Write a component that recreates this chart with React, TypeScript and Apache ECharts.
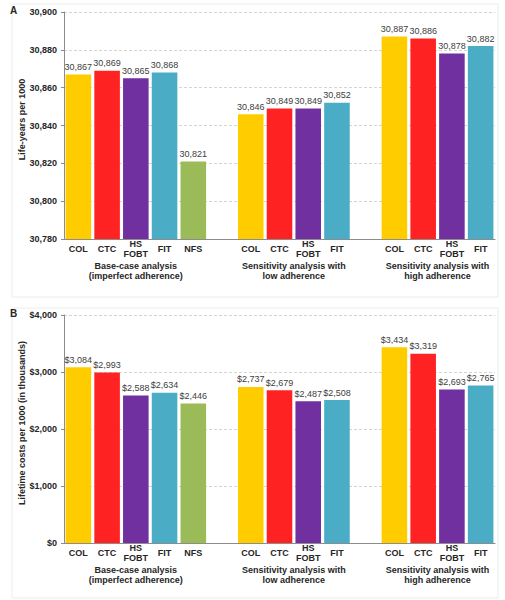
import React, { useEffect, useRef } from "react";
import * as echarts from "echarts";

// ---- Data ----
const strategiesBase = ["COL", "CTC", "HS\nFOBT", "FIT", "NFS"];
const strategiesSens = ["COL", "CTC", "HS\nFOBT", "FIT"];
const strategyColors: Record<string, string> = {
  COL: "#FFCC00",
  CTC: "#FF2222",
  "HS\nFOBT": "#7030A0",
  FIT: "#4BACC6",
  NFS: "#9BBB59",
};
const groupTitles = [
  "Base-case analysis\n(imperfect adherence)",
  "Sensitivity analysis with\nlow adherence",
  "Sensitivity analysis with\nhigh adherence",
];
const lifeYearsBase = [30867, 30869, 30865, 30868, 30821];
const lifeYearsLow = [30846, 30849, 30849, 30852];
const lifeYearsHigh = [30887, 30886, 30878, 30882];
const costsBase = [3084, 2993, 2588, 2634, 2446];
const costsLow = [2737, 2679, 2487, 2508];
const costsHigh = [3434, 3319, 2693, 2765];
const lifeTicks = { min: 30780, max: 30900, interval: 20 };
const costTicks = { min: 0, max: 4000, interval: 1000 };

// build categories with an empty spacer slot between groups
const groups = [strategiesBase, strategiesSens, strategiesSens];
const categories: string[] = [];
const groupCenters: number[] = [];
groups.forEach((g, gi) => {
  if (gi > 0) categories.push("");
  const start = categories.length;
  g.forEach((s) => categories.push(s));
  groupCenters.push(start + (g.length - 1) / 2);
});

function buildData(parts: number[][]) {
  const out: any[] = [];
  parts.forEach((p, gi) => {
    if (gi > 0) out.push("-");
    p.forEach((v, i) => {
      const cat = groups[gi][i];
      out.push({ value: v, itemStyle: { color: strategyColors[cat] } });
    });
  });
  return out;
}

const FONT = 'Arial, "Liberation Sans", sans-serif';
const fmt = (v: number) => v.toLocaleString("en-US");

export default function App() {
  const ref = useRef<HTMLDivElement>(null);
  useEffect(() => {
    const chart = echarts.init(ref.current!, null, { renderer: "svg" });
    const grids = [
      { left: 64, right: 10, top: 12, height: 227 },
      { left: 64, right: 10, top: 315, height: 228 },
    ];
    const makeCatAxis = (gi: number) => ({
      type: "category",
      gridIndex: gi,
      data: categories,
      axisLine: { show: true, onZero: false, lineStyle: { color: "#8c8c8c", width: 1 } },
      axisTick: { show: false },
      axisLabel: {
        interval: 0,
        margin: 10,
        verticalAlign: "middle",
        fontFamily: FONT,
        fontSize: 9,
        fontWeight: "bold",
        color: "#262626",
        lineHeight: 9.5,
      },
    });
    const makeGroupAxis = (gi: number) => ({
      type: "value",
      gridIndex: gi,
      position: "bottom",
      min: -0.5,
      max: categories.length - 0.5,
      interval: 0.5,
      axisLine: { show: false, onZero: false },
      axisTick: { show: false },
      splitLine: { show: false },
      axisLabel: {
        margin: 32,
        verticalAlign: "middle",
        fontFamily: FONT,
        fontSize: 9,
        fontWeight: "bold",
        color: "#262626",
        lineHeight: 10,
        formatter: (v: number) => {
          const idx = groupCenters.findIndex((c) => Math.abs(c - v) < 1e-6);
          return idx >= 0 ? groupTitles[idx] : "";
        },
      },
    });
    const makeValAxis = (gi: number, t: any, name: string, f: (v: number) => string) => ({
      type: "value",
      gridIndex: gi,
      min: t.min,
      max: t.max,
      interval: t.interval,
      name,
      nameLocation: "middle",
      nameGap: 38,
      nameMoveOverlap: false,
      nameTextStyle: {
        fontFamily: FONT,
        fontSize: 9,
        fontWeight: "bold",
        color: "#262626",
        padding: [0, 0, 0, 12],
      },
      axisLine: { show: true, onZero: false, lineStyle: { color: "#8c8c8c" } },
      axisTick: { show: true, length: 3, lineStyle: { color: "#8c8c8c" } },
      splitLine: { show: true, lineStyle: { color: "#d4d4d4", type: [3, 2] } },
      axisLabel: {
        margin: 7,
        fontFamily: FONT,
        fontSize: 9,
        fontWeight: "bold",
        color: "#262626",
        formatter: f,
      },
    });
    const labelStyle = (f: (v: number) => string) => ({
      show: true,
      position: "top",
      distance: 3,
      fontFamily: FONT,
      fontSize: 9,
      color: "#404040",
      formatter: (p: any) => f(p.value),
    });
    chart.setOption({
      animation: false,
      backgroundColor: "#ffffff",
      grid: grids,
      xAxis: [makeCatAxis(0), makeGroupAxis(0), makeCatAxis(1), makeGroupAxis(1)],
      yAxis: [
        makeValAxis(0, lifeTicks, "Life-years per 1000", fmt),
        makeValAxis(1, costTicks, "Lifetime costs per 1000 (in thousands)", (v) => "$" + fmt(v)),
      ],
      series: [
        {
          type: "bar",
          xAxisIndex: 0,
          yAxisIndex: 0,
          barWidth: "89%",
          data: buildData([lifeYearsBase, lifeYearsLow, lifeYearsHigh]),
          label: labelStyle(fmt),
        },
        {
          type: "bar",
          xAxisIndex: 2,
          yAxisIndex: 1,
          barWidth: "89%",
          data: buildData([costsBase, costsLow, costsHigh]),
          label: labelStyle((v) => "$" + fmt(v)),
        },
      ],
      graphic: [
        {
          type: "rect",
          shape: { x: 12, y: 4, width: 486, height: 293 },
          style: { fill: "none", stroke: "#ececec", lineWidth: 1 },
          silent: true,
        },
        {
          type: "rect",
          shape: { x: 12, y: 308, width: 486, height: 290 },
          style: { fill: "none", stroke: "#ececec", lineWidth: 1 },
          silent: true,
        },
        {
          type: "text",
          x: 10,
          y: 5,
          style: { text: "A", font: `bold 10px ${FONT}`, fill: "#262626" },
        },
        {
          type: "text",
          x: 10,
          y: 308,
          style: { text: "B", font: `bold 10px ${FONT}`, fill: "#262626" },
        },
      ],
    });
    return () => chart.dispose();
  }, []);
  return (
    <div
      ref={ref}
      style={{ position: "absolute", left: 0, top: 0, width: 505, height: 600 }}
    />
  );
}
